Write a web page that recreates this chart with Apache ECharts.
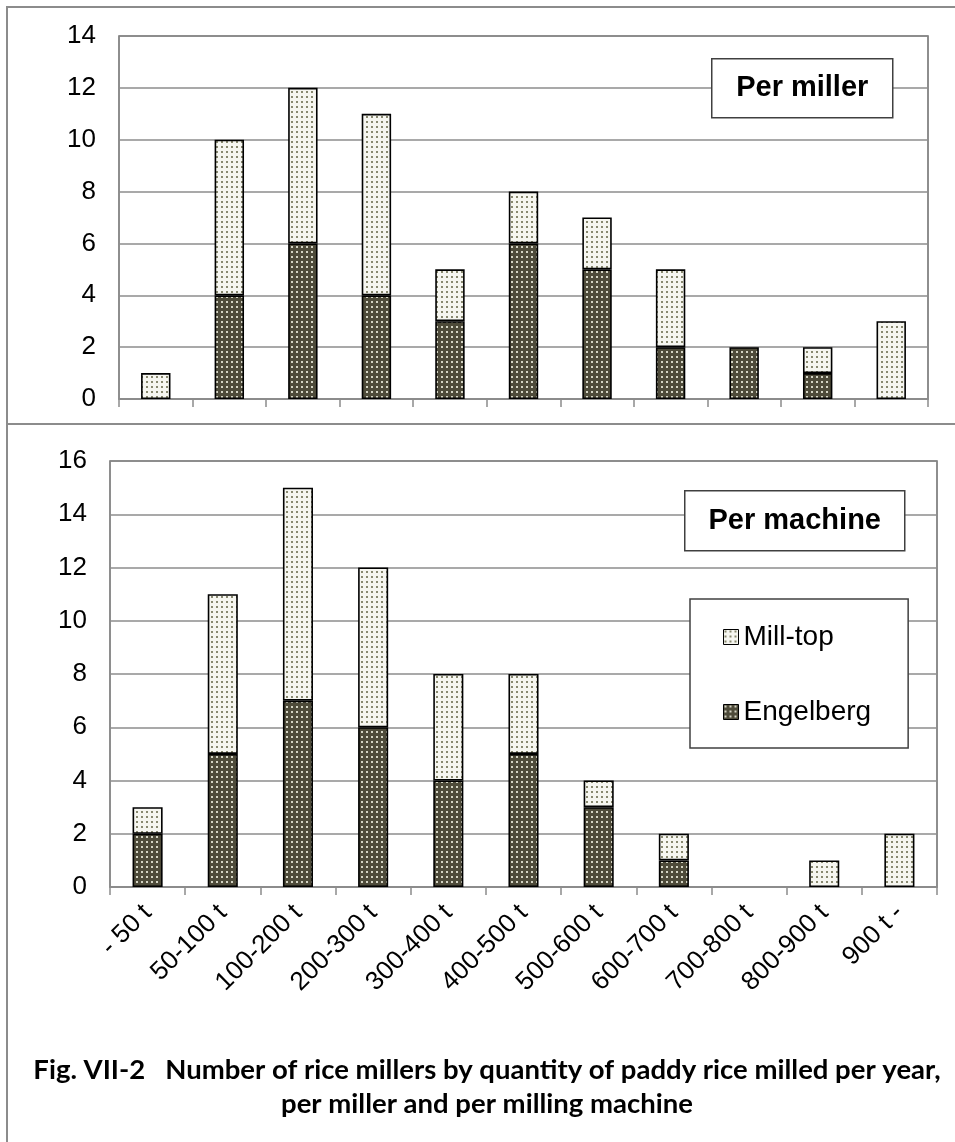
<!DOCTYPE html>
<html>
<head>
<meta charset="utf-8">
<script src="https://cdn.jsdelivr.net/npm/echarts@6/dist/echarts.min.js"></script>
<style>
  html, body { margin: 0; padding: 0; background: #fff; }
  #chart { width: 955px; height: 1142px; }
</style>
</head>
<body>
<div id="chart"></div>
<script>
// Size classes of paddy rice milled per year
const categories = ['- 50 t', '50-100 t', '100-200 t', '200-300 t', '300-400 t', '400-500 t',
                    '500-600 t', '600-700 t', '700-800 t', '800-900 t', '900 t -'];

// Per miller
const perMillerEngelberg = [0, 4, 6, 4, 3, 6, 5, 2, 2, 1, 0];
const perMillerMillTop   = [1, 6, 6, 7, 2, 2, 2, 3, 0, 1, 3];

// Per milling machine
const perMachineEngelberg = [2, 5, 7, 6, 4, 5, 3, 1, 0, 0, 0];
const perMachineMillTop   = [1, 6, 8, 6, 4, 3, 1, 1, 0, 1, 2];

const topTicks = { max: 14, interval: 2 };
const bottomTicks = { max: 16, interval: 2 };

// Dotted fill tiles for the two machine types
function dotTile(bg, dot) {
  const c = document.createElement('canvas');
  c.width = 5; c.height = 5;
  const g = c.getContext('2d');
  g.fillStyle = bg; g.fillRect(0, 0, 5, 5);
  g.fillStyle = dot; g.fillRect(1, 1, 2, 2);
  return { image: c, repeat: 'repeat' };
}
const engelbergFill = dotTile('#4e4b3a', '#d4d4c4');
const millTopFill = dotTile('#f6f6f0', '#88886f');

const AXIS_FONT = 'Liberation Sans, Arial, sans-serif';
const gridLine = { lineStyle: { color: '#8c8c8c', width: 1.5 } };

function yAxis(gridIndex, ticks) {
  return {
    type: 'value', gridIndex, min: 0, max: ticks.max, interval: ticks.interval,
    axisLine: { show: false }, axisTick: { show: false },
    splitLine: gridLine,
    axisLabel: { color: '#000', fontSize: 26, fontFamily: AXIS_FONT, margin: 23 }
  };
}
function xAxis(gridIndex, showLabels) {
  return {
    type: 'category', gridIndex, data: categories,
    axisLine: { lineStyle: { color: '#8c8c8c', width: 1.5 } },
    axisTick: { show: true, interval: 0, length: 8, lineStyle: { color: '#8c8c8c', width: 1.5 } },
    axisLabel: {
      show: showLabels, interval: 0, rotate: 45, color: '#000',
      fontSize: 26, fontFamily: AXIS_FONT, margin: 22
    }
  };
}
// empty classes get no bar segment at all
const segs = arr => arr.map(v => (v === 0 ? '-' : v));
function bar(name, data, idx, fill, stack) {
  return {
    name, type: 'bar', data: segs(data), stack, xAxisIndex: idx, yAxisIndex: idx,
    barWidth: '40%',
    itemStyle: { color: fill, borderColor: '#000', borderWidth: 1.6 },
    emphasis: { disabled: true }
  };
}

function boxLabel(x, y, w, h, text) {
  return {
    type: 'group', left: x, top: y, z: 50,
    children: [
      { type: 'rect', z: 50, shape: { x: 0, y: 0, width: w, height: h },
        style: { fill: '#fff', stroke: '#404040', lineWidth: 1.5 } },
      { type: 'text', z: 51, x: w / 2, y: h / 2,
        style: { text, fill: '#000', font: 'bold 29px ' + AXIS_FONT,
                 align: 'center', verticalAlign: 'middle' } }
    ]
  };
}

const CAPTION_FONT = 'bold 27.5px Lato, sans-serif';

const chart = echarts.init(document.getElementById('chart'), null, { renderer: 'canvas' });
chart.setOption({
  animation: false,
  backgroundColor: '#fff',
  grid: [
    { left: 119, top: 36, width: 809, height: 363, show: true,
      borderColor: '#6a6a6a', borderWidth: 1.5, backgroundColor: 'transparent' },
    { left: 110, top: 461, width: 827, height: 426, show: true,
      borderColor: '#6a6a6a', borderWidth: 1.5, backgroundColor: 'transparent' }
  ],
  xAxis: [xAxis(0, false), xAxis(1, true)],
  yAxis: [yAxis(0, topTicks), yAxis(1, bottomTicks)],
  legend: {
    data: ['Mill-top', 'Engelberg'],
    orient: 'vertical', left: 690, top: 599,
    icon: 'rect', itemWidth: 15, itemHeight: 15, itemGap: 47,
    itemStyle: { borderColor: '#000', borderWidth: 1 },
    padding: [24, 37, 22, 33],
    borderColor: '#404040', borderWidth: 1.5, backgroundColor: '#fff',
    textStyle: { color: '#000', fontSize: 28, fontFamily: AXIS_FONT, lineHeight: 22 },
    itemTextGap: 6,
    selectedMode: false
  },
  series: [
    bar('Engelberg', perMillerEngelberg, 0, engelbergFill, 'a'),
    bar('Mill-top', perMillerMillTop, 0, millTopFill, 'a'),
    bar('Engelberg', perMachineEngelberg, 1, engelbergFill, 'b'),
    bar('Mill-top', perMachineMillTop, 1, millTopFill, 'b')
  ],
  graphic: [
    // outer frame and divider between the two panels
    { type: 'polyline', shape: { points: [[955, 7], [7, 7], [7, 1142]] },
      style: { stroke: '#8c8c8c', lineWidth: 2, fill: null } },
    { type: 'line', shape: { x1: 7, y1: 424, x2: 955, y2: 424 },
      style: { stroke: '#8c8c8c', lineWidth: 2 } },
    boxLabel(711, 58, 181, 59, 'Per miller'),
    boxLabel(684, 490, 220, 60, 'Per machine'),
    { type: 'text', x: 487, y: 1070,
      style: { text: 'Fig. VII-2   Number of rice millers by quantity of paddy rice milled per year,',
               fill: '#000', font: CAPTION_FONT, align: 'center', verticalAlign: 'middle' } },
    { type: 'text', x: 487, y: 1104,
      style: { text: 'per miller and per milling machine',
               fill: '#000', font: CAPTION_FONT, align: 'center', verticalAlign: 'middle' } }
  ]
});
</script>
</body>
</html>
